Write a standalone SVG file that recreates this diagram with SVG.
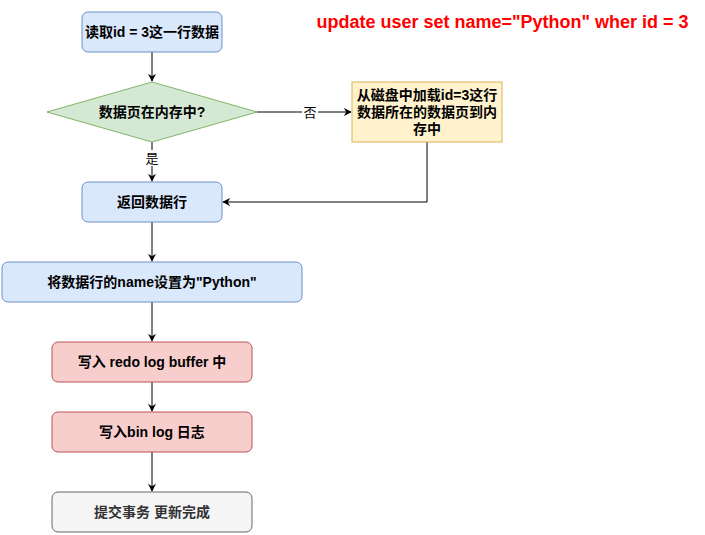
<svg xmlns="http://www.w3.org/2000/svg" width="705" height="535" viewBox="0 0 705 535">
<style>
text{font-family:"Liberation Sans","Noto Sans CJK SC",sans-serif;font-size:14px;font-weight:bold;text-anchor:middle;fill:#000}
.blue{fill:#dae8fc;stroke:#6c8ebf}
.green{fill:#d5e8d4;stroke:#82b366}
.yellow{fill:#fff2cc;stroke:#d6b656}
.red{fill:#f8cecc;stroke:#b85450}
.gray{fill:#f5f5f5;stroke:#666666}
.edge{fill:none;stroke:#000;stroke-width:1}
.lbl{font-weight:normal;font-size:13px}
</style>
<defs>
<marker id="arr" viewBox="0 0 10 10" refX="9" refY="5" markerWidth="8" markerHeight="8" markerUnits="userSpaceOnUse" orient="auto">
<path d="M0,0 L10,5 L0,10 L3,5 Z" fill="#000"/>
</marker>
</defs>
<rect width="705" height="535" fill="#fff"/>
<g id="connectors">
<path class="edge" d="M152,52 V81" marker-end="url(#arr)"/>
<path class="edge" d="M257,112 H351" marker-end="url(#arr)"/>
<path class="edge" d="M152,142 V181" marker-end="url(#arr)"/>
<path class="edge" d="M427,142 V202 H223" marker-end="url(#arr)"/>
<path class="edge" d="M152,222 V261" marker-end="url(#arr)"/>
<path class="edge" d="M152,302 V341" marker-end="url(#arr)"/>
<path class="edge" d="M152,382 V411" marker-end="url(#arr)"/>
<path class="edge" d="M152,452 V491" marker-end="url(#arr)"/>
<rect x="302" y="104" width="16" height="16" fill="#fff"/>
<text class="lbl" x="310" y="117">否</text>
<rect x="144" y="150" width="16" height="16" fill="#fff"/>
<text class="lbl" x="152" y="163">是</text>
</g>
<g id="n1"><rect class="blue" x="82" y="12" width="140" height="40" rx="6"/><text x="152" y="37">读取id = 3这一行数据</text></g>
<g id="n2"><polygon class="green" points="152,82 257,112 152,142 47,112"/><text x="152" y="117">数据页在内存中?</text></g>
<g id="n3"><rect class="yellow" x="352" y="82" width="150" height="60"/><text x="427" y="100">从磁盘中加载id=3这行</text><text x="427" y="117">数据所在的数据页到内</text><text x="427" y="134">存中</text></g>
<g id="n4"><rect class="blue" x="82" y="182" width="140" height="40" rx="6"/><text x="152" y="207">返回数据行</text></g>
<g id="n5"><rect class="blue" x="2" y="262" width="300" height="40" rx="6"/><text x="152" y="287">将数据行的name设置为"Python"</text></g>
<g id="n6"><rect class="red" x="52" y="342" width="200" height="40" rx="6"/><text x="152" y="367">写入 redo log buffer 中</text></g>
<g id="n7"><rect class="red" x="52" y="412" width="200" height="40" rx="6"/><text x="152" y="437">写入bin log 日志</text></g>
<g id="n8"><rect class="gray" x="52" y="492" width="200" height="40" rx="6"/><text x="152" y="517" style="fill:#333333">提交事务 更新完成</text></g>
<g id="title"><text x="502.5" y="28" style="font-size:18px;fill:#ff0000">update user set name="Python" wher id = 3</text></g>
</svg>
